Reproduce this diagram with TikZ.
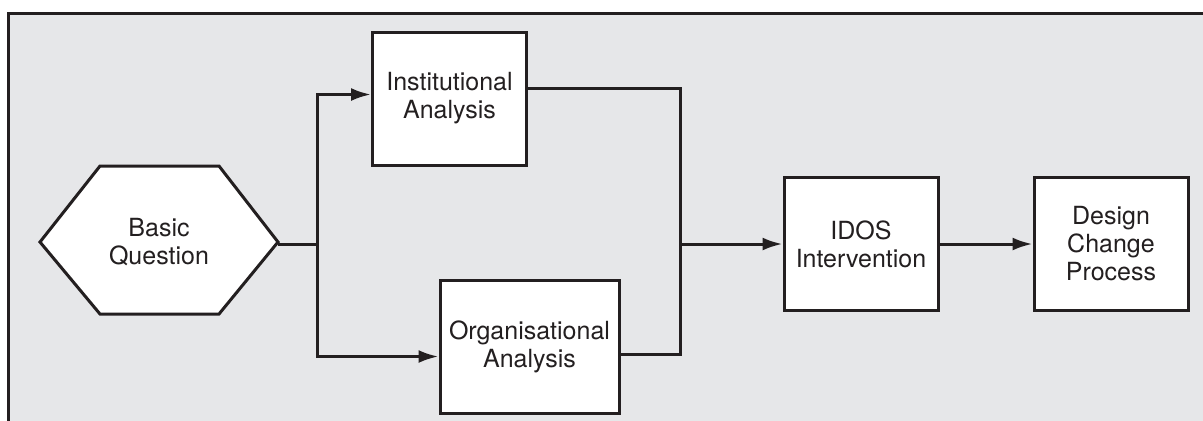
\documentclass[tikz,border=0pt]{standalone}
\usepackage{fontspec}
\setmainfont{TeX Gyre Heros}
\usetikzlibrary{arrows.meta}
\usepackage{xcolor}
\definecolor{panelgray}{HTML}{E6E7E9}
\definecolor{inkdark}{HTML}{231F20}

\begin{document}
\begin{tikzpicture}[x=0.5pt,y=-0.5pt,
    box/.style={draw=inkdark,fill=white,line width=1.5pt,align=center,text=inkdark,
      minimum width=77pt,minimum height=66.5pt,inner sep=2pt,font=\fontsize{12.5}{14}\selectfont},
    link/.style={draw=inkdark,line width=1.5pt},
    arrowlink/.style={link,-{Latex[length=10pt,width=6.5pt]}}]
  \useasboundingbox (0,0) rectangle (1203,420);
  \clip (0,0) rectangle (1203,420);
  \draw[fill=panelgray,draw=inkdark,line width=1.5pt] (8,13) rectangle (1225,445);

  \def\hx{159}
  \def\hy{242}
  \draw[fill=white,draw=inkdark,line width=1.5pt,line join=miter]
    (40,\hy) -- (100,166) -- (219,166) -- (278,\hy) -- (219,314) -- (100,314) -- cycle;
  \node[align=center,text=inkdark,font=\fontsize{12.5}{14}\selectfont] (question) at (\hx,\hy) {Basic\\Question};
  \coordinate (questionTip) at (278,244);

  \node[box] (inst) at (449.5,98.5) {Institutional\\Analysis};
  \node[box,minimum width=89.5pt] (org) at (529.5,346.5) {Organisational\\Analysis};
  \node[box] (idos) at (861,244) {IDOS\\Intervention};
  \node[box] (design) at (1111,244) {Design\\Change\\Process};

  \coordinate (split) at (317,244);
  \coordinate (merge) at (680,244);

  \draw[link] (questionTip) -- (split);
  \draw[arrowlink] (split) |- ([yshift=2pt]inst.west);
  \draw[arrowlink] (split) |- ([yshift=-5pt]org.west);
  \draw[link] ([yshift=5pt]inst.east) -| (merge) |- ([yshift=-4pt]org.east);
  \draw[arrowlink] (merge) -- (idos.west);
  \draw[arrowlink] (idos) -- (design);
\end{tikzpicture}
\end{document}
